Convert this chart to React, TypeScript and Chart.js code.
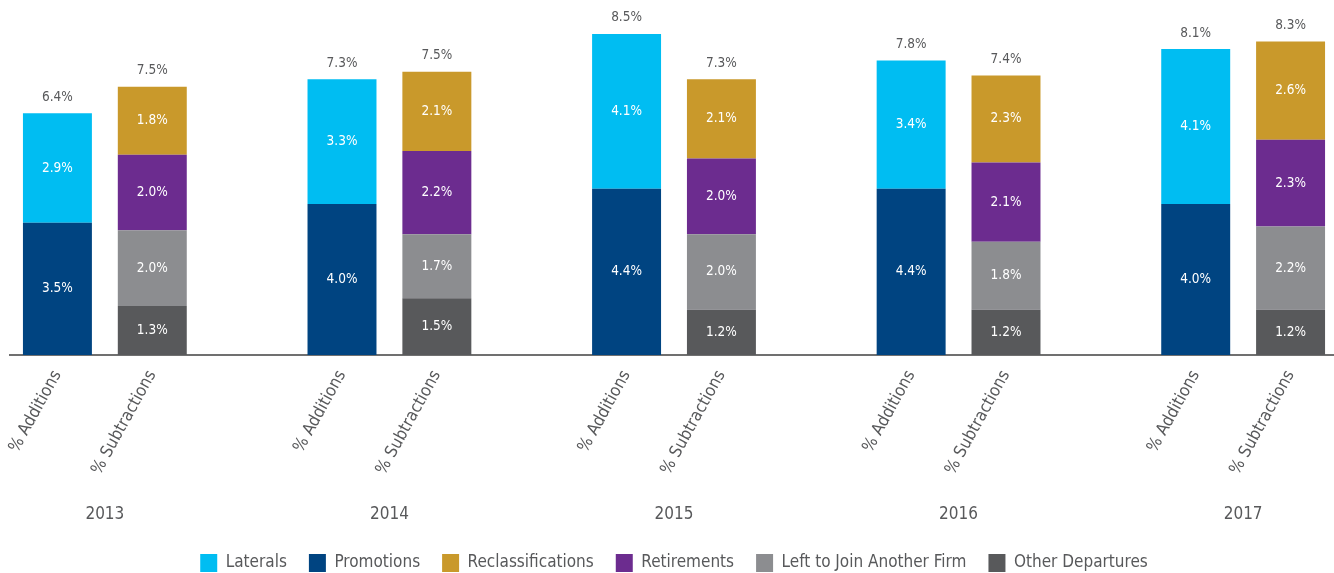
import React, { useEffect, useRef } from 'react';
import { Chart, registerables } from 'chart.js';

Chart.register(...registerables);

const years = ['2013', '2014', '2015', '2016', '2017'];
const barLabels = ['% Additions', '% Subtractions'];
const laterals = [2.9, 3.3, 4.1, 3.4, 4.1];
const promotions = [3.5, 4.0, 4.4, 4.4, 4.0];
const reclassifications = [1.8, 2.1, 2.1, 2.3, 2.6];
const retirements = [2.0, 2.2, 2.0, 2.1, 2.3];
const leftToJoin = [2.0, 1.7, 2.0, 1.8, 2.2];
const otherDepartures = [1.3, 1.5, 1.2, 1.2, 1.2];
const additionTotals = [6.4, 7.3, 8.5, 7.8, 8.1];
const subtractionTotals = [7.5, 7.5, 7.3, 7.4, 8.3];
const legendOrder = ['Laterals', 'Promotions', 'Reclassifications', 'Retirements', 'Left to Join Another Firm', 'Other Departures'];

const FONT = "'Liberation Sans Narrow', 'DejaVu Sans Condensed', sans-serif";
const TEXT = '#58595b';

const categories: string[] = [];
years.forEach((_, i) => {
  categories.push(barLabels[0], barLabels[1]);
  if (i < years.length - 1) categories.push('');
});

function place(values: number[], slot: number): (number | null)[] {
  const out: (number | null)[] = categories.map(() => null);
  values.forEach((v, i) => { out[i * 3 + slot] = v; });
  return out;
}

const labelPlugin = {
  id: 'valueLabels',
  afterDatasetsDraw(chart: any) {
    const { ctx } = chart;
    ctx.save();
    ctx.textAlign = 'center';
    ctx.textBaseline = 'middle';
    ctx.font = `13.5px ${FONT}`;
    ctx.fillStyle = '#ffffff';
    chart.data.datasets.forEach((ds: any, di: number) => {
      const meta = chart.getDatasetMeta(di);
      meta.data.forEach((el: any, idx: number) => {
        const v = ds.data[idx];
        if (v === null || v === undefined) return;
        ctx.fillText(v.toFixed(1) + '%', el.x, (el.y + el.base) / 2);
      });
    });
    const xs = chart.scales.x;
    const ys = chart.scales.y;
    ctx.fillStyle = TEXT;
    ctx.font = `13.5px ${FONT}`;
    years.forEach((_, i) => {
      const addTop = promotions[i] + laterals[i];
      const subTop = otherDepartures[i] + leftToJoin[i] + retirements[i] + reclassifications[i];
      ctx.fillText(additionTotals[i].toFixed(1) + '%', xs.getPixelForValue(i * 3), ys.getPixelForValue(addTop) - 16);
      ctx.fillText(subtractionTotals[i].toFixed(1) + '%', xs.getPixelForValue(i * 3 + 1), ys.getPixelForValue(subTop) - 16);
    });
    ctx.font = `17px ${FONT}`;
    years.forEach((y, i) => {
      const cx = (xs.getPixelForValue(i * 3) + xs.getPixelForValue(i * 3 + 1)) / 2;
      ctx.fillText(y, cx, 515);
    });
    ctx.restore();
  },
};

export default function App() {
  const ref = useRef<HTMLCanvasElement | null>(null);
  useEffect(() => {
    if (!ref.current) return;
    Chart.defaults.font.family = FONT;
    const chart = new Chart(ref.current, {
      type: 'bar',
      data: {
        labels: categories,
        datasets: [
          { label: 'Promotions', data: place(promotions, 0), backgroundColor: '#004481' },
          { label: 'Laterals', data: place(laterals, 0), backgroundColor: '#00BDF2' },
          { label: 'Other Departures', data: place(otherDepartures, 1), backgroundColor: '#58595B' },
          { label: 'Left to Join Another Firm', data: place(leftToJoin, 1), backgroundColor: '#8C8D90' },
          { label: 'Retirements', data: place(retirements, 1), backgroundColor: '#6C2C8F' },
          { label: 'Reclassifications', data: place(reclassifications, 1), backgroundColor: '#C9992B' },
        ],
      },
      options: {
        animation: false,
        responsive: true,
        maintainAspectRatio: false,
        layout: { padding: { left: 10, right: 2, top: 0, bottom: 0 } },
        datasets: { bar: { barPercentage: 0.727, categoryPercentage: 1, skipNull: true } },
        scales: {
          x: {
            stacked: true,
            grid: { display: false },
            border: { display: true, color: '#707070', width: 2 },
            ticks: {
              autoSkip: false,
              minRotation: 61,
              maxRotation: 61,
              padding: 4,
              color: TEXT,
              font: { size: 17, family: FONT },
            },
            afterFit: (scale: any) => { scale.height = 177; },
          },
          y: { stacked: true, display: false, min: 0, max: 9.4 },
        },
        plugins: {
          legend: {
            position: 'bottom',
            labels: {
              boxWidth: 17,
              boxHeight: 18,
              padding: 22,
              color: TEXT,
              font: { size: 17, family: FONT },
              sort: (a: any, b: any) => legendOrder.indexOf(a.text) - legendOrder.indexOf(b.text),
            },
          },
          tooltip: { enabled: false },
        },
      },
      plugins: [labelPlugin],
    });
    return () => chart.destroy();
  }, []);
  return (
    <div style={{ position: 'fixed', left: 0, top: 0, width: 1334, height: 573, overflow: 'hidden', background: '#fff' }}>
      <div style={{ position: 'relative', width: 1340, height: 582 }}>
        <canvas ref={ref} />
      </div>
    </div>
  );
}
